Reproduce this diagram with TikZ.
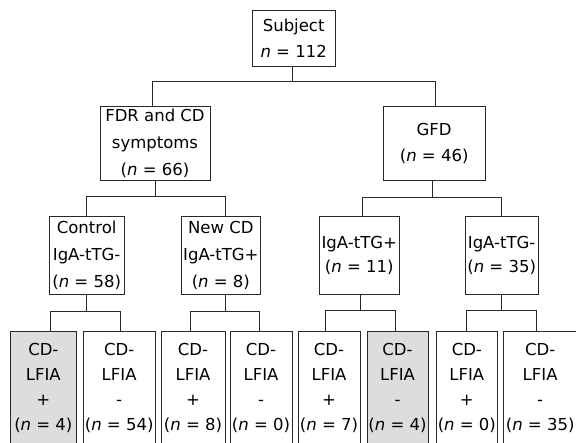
\documentclass[tikz,border=0pt]{standalone}
\usepackage{fontspec}
\setmainfont{DejaVu Sans}
\definecolor{boxgray}{RGB}{220,222,221}
\definecolor{linecol}{RGB}{40,40,40}
\begin{document}
\begin{tikzpicture}[x=1pt,y=-1pt,
  box/.style={draw=linecol,line width=0.9pt,inner sep=0pt,align=center,
    font=\fontsize{16.5}{25.5}\selectfont},
  tall/.style={font=\fontsize{16.5}{27}\selectfont},
  leaf/.style={box,minimum height=113.3pt,font=\fontsize{16.5}{25}\selectfont},
  shaded/.style={fill=boxgray},
  conn/.style={draw=linecol,line width=0.9pt}]
\useasboundingbox (0,0) rectangle (576,443);
\fill[white] (0,0) rectangle (576,443);
% level 0
\node[box,minimum width=82.7pt,minimum height=55.3pt] (subj) at (293.65,38.35) {Subject\\\textit{n} = 112};
% level 1
\node[box,tall,minimum width=110pt,minimum height=74pt] (fdr) at (155,143.7) {FDR and CD\\symptoms\\(\textit{n} = 66)};
\node[box,minimum width=101.7pt,minimum height=74pt] (gfd) at (434.15,143.7) {\raisebox{-5pt}{GFD}\\\raisebox{-5pt}{(\textit{n} = 46)}};
% level 2
\node[box,tall,minimum width=74.7pt,minimum height=78pt] (ctl) at (86.65,255.5) {Control\\IgA-tTG-\\(\textit{n} = 58)};
\node[box,tall,minimum width=78.3pt,minimum height=78pt] (ncd) at (220.85,255.6) {New CD\\IgA-tTG+\\(\textit{n} = 8)};
\node[box,font=\fontsize{16.5}{24}\selectfont,minimum width=80pt,minimum height=78pt] (ipos) at (359.3,255.85) {IgA-tTG+\\(\textit{n} = 11)};
\node[box,font=\fontsize{16.5}{24}\selectfont,minimum width=73.3pt,minimum height=78pt] (ineg) at (501.65,255.85) {IgA-tTG-\\(\textit{n} = 35)};
% level 3
\node[leaf,shaded,minimum width=65.3pt] (b1) at (43.35,388.35) {CD-\\LFIA\\+\\(\textit{n} = 4)};
\node[leaf,minimum width=71.7pt] (b2) at (119.15,388.35) {CD-\\LFIA\\-\\(\textit{n} = 54)};
\node[leaf,minimum width=64pt] (b3) at (193,388.35) {CD-\\LFIA\\+\\(\textit{n} = 8)};
\node[leaf,minimum width=62pt] (b4) at (261,388.35) {CD-\\LFIA\\-\\(\textit{n} = 0)};
\node[leaf,minimum width=62pt] (b5) at (329,388.35) {CD-\\LFIA\\+\\(\textit{n} = 7)};
\node[leaf,shaded,minimum width=61pt] (b6) at (397.5,388.35) {CD-\\LFIA\\-\\(\textit{n} = 4)};
\node[leaf,minimum width=60.3pt] (b7) at (466.85,388.35) {CD-\\LFIA\\+\\(\textit{n} = 0)};
\node[leaf,minimum width=73.7pt] (b8) at (540.15,388.35) {CD-\\LFIA\\-\\(\textit{n} = 35)};
% connectors level 0 -> 1
\draw[conn] ([xshift=-1.35pt]subj.south) -- ([xshift=-1.35pt,yshift=-15pt]subj.south);
\draw[conn] ([xshift=-2.7pt]fdr.north) |- ([yshift=-15pt]subj.south) -| ([xshift=0.85pt]gfd.north);
% level 1 -> 2
\draw[conn] ([xshift=0.7pt]fdr.south) -- ([xshift=0.7pt,yshift=-15pt]fdr.south);
\draw[conn] ([xshift=-0.65pt]ctl.north) |- ([yshift=-15pt]fdr.south) -| ([xshift=4.15pt]ncd.north);
\draw[conn] ([xshift=-1.85pt]gfd.south) -- ([xshift=-1.85pt,yshift=-16pt]gfd.south);
\draw[conn] ([xshift=3pt]ipos.north) |- ([yshift=-16pt]gfd.south) -| ([xshift=-0.65pt]ineg.north);
% level 2 -> 3
\draw[conn] (ctl.south) -- ([yshift=-16.4pt]ctl.south);
\draw[conn] ([xshift=7.35pt]b1.north) |- ([yshift=-16.4pt]ctl.south) -| ([xshift=1.55pt]b2.north);
\draw[conn] ([xshift=4.15pt]ncd.south) -- ([xshift=4.15pt,yshift=-16pt]ncd.south);
\draw[conn] ([xshift=-3pt]b3.north) |- ([yshift=-16pt]ncd.south) -| ([xshift=-1.7pt]b4.north);
\draw[conn] ([xshift=1.4pt]ipos.south) -- ([xshift=1.4pt,yshift=-15pt]ipos.south);
\draw[conn] ([xshift=-4pt]b5.north) |- ([yshift=-15pt]ipos.south) -| ([xshift=-2.5pt]b6.north);
\draw[conn] (ineg.south) -- ([yshift=-15pt]ineg.south);
\draw[conn] ([xshift=-0.15pt]b7.north) |- ([yshift=-15pt]ineg.south) -| ([xshift=-3.45pt]b8.north);
\end{tikzpicture}
\end{document}
